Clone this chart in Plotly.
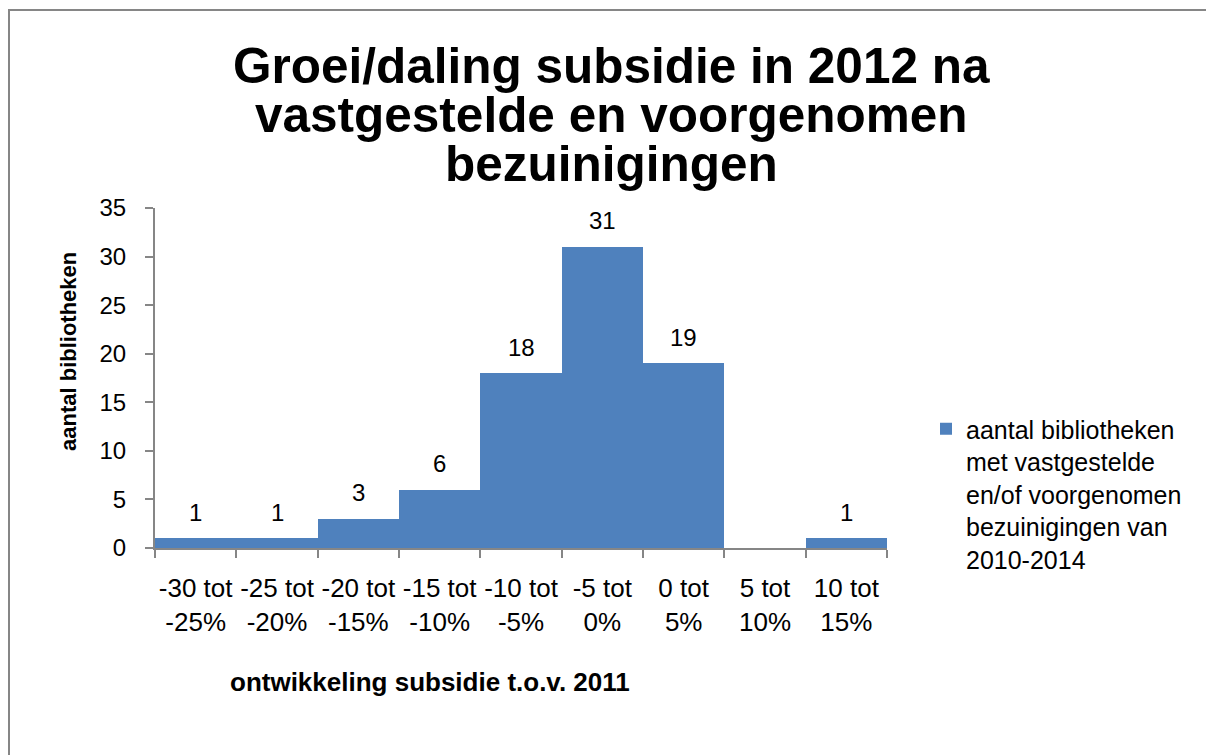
import plotly.graph_objects as go

# bins of subsidy change vs 2011 and the number of libraries in each
categories = ["-30 tot<br>-25%", "-25 tot<br>-20%", "-20 tot<br>-15%", "-15 tot<br>-10%",
              "-10 tot<br>-5%", "-5 tot<br>0%", "0 tot<br>5%", "5 tot<br>10%", "10 tot<br>15%"]
counts = [1, 1, 3, 6, 18, 31, 19, 0, 1]
series_name = "aantal bibliotheken<br>met vastgestelde<br>en/of voorgenomen<br>bezuinigingen van<br>2010-2014"
title_lines = ["Groei/daling subsidie in 2012 na", "vastgestelde en voorgenomen", "bezuinigingen"]
y_ticks = [0, 5, 10, 15, 20, 25, 30, 35]

FONT = "Arial, Liberation Sans, sans-serif"
AXIS_GREY = "#868686"

# page body has an 8px margin, so the figure is drawn 8px in from the window edge
OFF = 8
W, H = 1214 - OFF, 755 - OFF
# plot area in window pixels
L, R, T, B = 155, 887, 208, 548


def px_x(p):
    return (p - L) / (R - L)


def px_y(p):
    return (B - p) / (B - T)


xs = list(range(len(categories)))

fig = go.Figure()
fig.add_trace(go.Bar(
    x=xs, y=counts, name=series_name,
    marker=dict(color="#4F81BD", line=dict(width=0)),
    width=1.0,
))

# value labels above the bars (empty bin gets none)
for x, v in zip(xs, counts):
    if v:
        fig.add_annotation(x=x, y=v, text=str(v), showarrow=False, yshift=26,
                           xanchor="center", yanchor="middle",
                           font=dict(family=FONT, size=24, color="black"))

# title, one annotation per line
for i, line in enumerate(title_lines):
    fig.add_annotation(xref="paper", yref="paper", x=px_x(611), y=px_y(66 + i * 48.5),
                       xanchor="center", yanchor="middle",
                       text=f"<b>{line}</b>", showarrow=False,
                       font=dict(family=FONT, size=49.5, color="black"))

# axis titles
fig.add_annotation(xref="paper", yref="paper", x=px_x(68), y=px_y(352), textangle=-90,
                   xanchor="center", yanchor="middle",
                   text="<b>aantal bibliotheken</b>", showarrow=False,
                   font=dict(family=FONT, size=22, color="black"))
fig.add_annotation(xref="paper", yref="paper", x=px_x(430), y=px_y(682),
                   xanchor="center", yanchor="middle",
                   text="<b>ontwikkeling subsidie t.o.v. 2011</b>", showarrow=False,
                   font=dict(family=FONT, size=26, color="black"))

# outer frame (only top and left edges visible in the source)
fig.add_shape(type="rect", xref="paper", yref="paper",
              x0=px_x(OFF + 1), x1=px_x(1240), y0=px_y(780), y1=px_y(OFF + 2),
              line=dict(color=AXIS_GREY, width=2), fillcolor="rgba(0,0,0,0)")

fig.update_layout(
    width=W, height=H,
    margin=dict(l=L - OFF, r=W - (R - OFF), t=T - OFF, b=H - (B - OFF), autoexpand=False),
    paper_bgcolor="white", plot_bgcolor="white",
    bargap=0,
    showlegend=True,
    legend=dict(x=px_x(926), y=px_y(406), xanchor="left", yanchor="top",
                valign="top", font=dict(family=FONT, size=25, color="black"),
                bgcolor="rgba(0,0,0,0)", borderwidth=0),
    font=dict(family=FONT, size=20, color="black"),
)
fig.update_xaxes(
    range=[-0.5, len(categories) - 0.5],
    tickmode="array", tickvals=xs, ticktext=categories,
    ticks="", ticklabelstandoff=16,
    showline=True, linecolor=AXIS_GREY, linewidth=2,
    showgrid=False, zeroline=False,
    tickfont=dict(family=FONT, size=26, color="black"),
    minor=dict(tickmode="array", tickvals=[x - 0.5 for x in xs] + [len(xs) - 0.5],
               ticks="outside", ticklen=8, tickcolor=AXIS_GREY, tickwidth=2, showgrid=False),
)
fig.update_yaxes(
    range=[0, 35], tickmode="array", tickvals=y_ticks,
    ticks="outside", ticklen=8, tickcolor=AXIS_GREY, tickwidth=2, ticklabelstandoff=14,
    showline=True, linecolor=AXIS_GREY, linewidth=2,
    showgrid=False, zeroline=False,
    tickfont=dict(family=FONT, size=24, color="black"),
)

fig.write_html("out.html")
